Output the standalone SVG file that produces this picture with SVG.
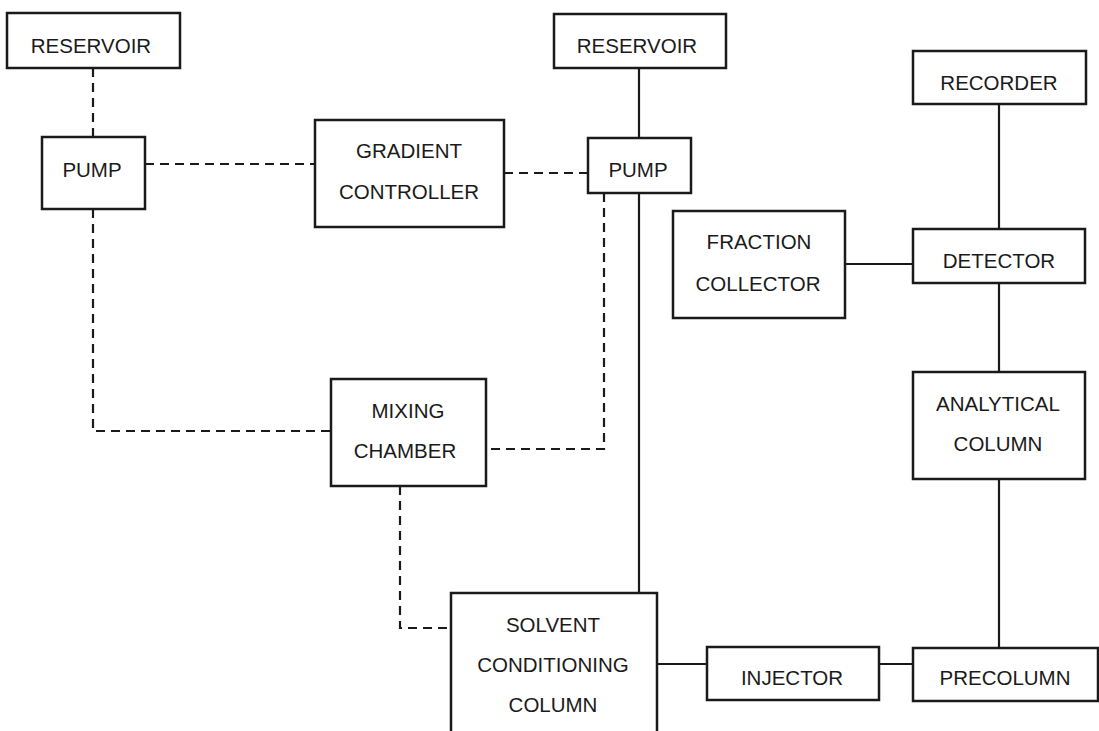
<svg xmlns="http://www.w3.org/2000/svg" width="1099" height="731" viewBox="0 0 1099 731">
<style>
.box{fill:#fff;stroke:#1a1a1a;stroke-width:2.5}
.t{font-family:"Liberation Sans",Arial,sans-serif;font-size:20.5px;fill:#1a1a1a;text-anchor:middle}
.s{fill:none;stroke:#1a1a1a;stroke-width:2.2}
.d{fill:none;stroke:#1a1a1a;stroke-width:2.2;stroke-dasharray:9 6}
</style>
<rect width="1099" height="731" fill="#fff"/>
<g id="connectors">
<path class="d" d="M93 68V137"/>
<path class="d" d="M145 164H315"/>
<path class="d" d="M504 173H588"/>
<path class="d" d="M93 209V431H331"/>
<path class="d" d="M604 193V449H486"/>
<path class="d" d="M400 486V628H451"/>
<path class="s" d="M639 68V138"/>
<path class="s" d="M639 193V593"/>
<path class="s" d="M999 104V229"/>
<path class="s" d="M845 264H913"/>
<path class="s" d="M999 283V372"/>
<path class="s" d="M999 479V648"/>
<path class="s" d="M657 664H707"/>
<path class="s" d="M879 664H913"/>
</g>
<g id="reservoir1"><rect class="box" x="7" y="13" width="173" height="55"/><text class="t" x="91" y="53">RESERVOIR</text></g>
<g id="pump1"><rect class="box" x="42" y="137" width="103" height="72"/><text class="t" x="92" y="177">PUMP</text></g>
<g id="gradient"><rect class="box" x="315" y="120" width="189" height="107"/><text class="t" x="409" y="158">GRADIENT</text><text class="t" x="409" y="199">CONTROLLER</text></g>
<g id="reservoir2"><rect class="box" x="554" y="14" width="172" height="54"/><text class="t" x="637" y="53">RESERVOIR</text></g>
<g id="pump2"><rect class="box" x="588" y="138" width="103" height="55"/><text class="t" x="638" y="177">PUMP</text></g>
<g id="recorder"><rect class="box" x="913" y="51" width="173" height="53"/><text class="t" x="999" y="90">RECORDER</text></g>
<g id="fraction"><rect class="box" x="673" y="211" width="172" height="107"/><text class="t" x="759" y="249">FRACTION</text><text class="t" x="758" y="291">COLLECTOR</text></g>
<g id="detector"><rect class="box" x="913" y="229" width="172" height="54"/><text class="t" x="999" y="268">DETECTOR</text></g>
<g id="mixing"><rect class="box" x="331" y="379" width="155" height="107"/><text class="t" x="408" y="418">MIXING</text><text class="t" x="405" y="458">CHAMBER</text></g>
<g id="analytical"><rect class="box" x="913" y="372" width="172" height="107"/><text class="t" x="998" y="411">ANALYTICAL</text><text class="t" x="998" y="451">COLUMN</text></g>
<g id="solvent"><rect class="box" x="451" y="593" width="206" height="150"/><text class="t" x="553" y="632">SOLVENT</text><text class="t" x="553" y="672">CONDITIONING</text><text class="t" x="553" y="712">COLUMN</text></g>
<g id="injector"><rect class="box" x="707" y="647" width="172" height="53"/><text class="t" x="792" y="685">INJECTOR</text></g>
<g id="precolumn"><rect class="box" x="913" y="648" width="185" height="53"/><text class="t" x="1005" y="685">PRECOLUMN</text></g>
</svg>
